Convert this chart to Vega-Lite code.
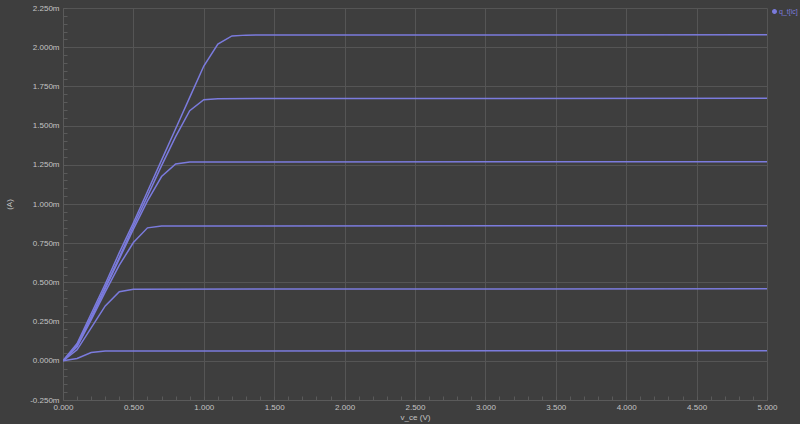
{
  "$schema": "https://vega.github.io/schema/vega-lite/v6.json",
  "autosize": "none",
  "width": 704,
  "height": 392,
  "padding": {"left": 63, "top": 8, "right": 33, "bottom": 24},
  "background": "#3e3e3e",
  "config": {
    "view": {"stroke": null, "fill": "#3e3e3e"},
    "font": "Liberation Sans"
  },
  "data": {
    "values": [
      {"curve": "c1", "vce": 0, "ic": 0},
      {"curve": "c1", "vce": 0.1, "ic": 0.00011},
      {"curve": "c1", "vce": 0.2, "ic": 0.0003},
      {"curve": "c1", "vce": 0.3, "ic": 0.00049},
      {"curve": "c1", "vce": 0.4, "ic": 0.00069},
      {"curve": "c1", "vce": 0.5, "ic": 0.00088},
      {"curve": "c1", "vce": 0.6, "ic": 0.00108},
      {"curve": "c1", "vce": 0.7, "ic": 0.00128},
      {"curve": "c1", "vce": 0.8, "ic": 0.00148},
      {"curve": "c1", "vce": 0.9, "ic": 0.00168},
      {"curve": "c1", "vce": 1.0, "ic": 0.00188},
      {"curve": "c1", "vce": 1.1, "ic": 0.00202},
      {"curve": "c1", "vce": 1.2, "ic": 0.002072},
      {"curve": "c1", "vce": 1.3, "ic": 0.002077},
      {"curve": "c1", "vce": 5.0, "ic": 0.00208},
      {"curve": "c2", "vce": 0, "ic": 0},
      {"curve": "c2", "vce": 0.1, "ic": 0.0001},
      {"curve": "c2", "vce": 0.2, "ic": 0.00028},
      {"curve": "c2", "vce": 0.3, "ic": 0.00047},
      {"curve": "c2", "vce": 0.4, "ic": 0.00066},
      {"curve": "c2", "vce": 0.5, "ic": 0.00086},
      {"curve": "c2", "vce": 0.6, "ic": 0.00105},
      {"curve": "c2", "vce": 0.7, "ic": 0.001245},
      {"curve": "c2", "vce": 0.8, "ic": 0.00143},
      {"curve": "c2", "vce": 0.9, "ic": 0.001595},
      {"curve": "c2", "vce": 1.0, "ic": 0.001665},
      {"curve": "c2", "vce": 1.1, "ic": 0.001672},
      {"curve": "c2", "vce": 5.0, "ic": 0.001675},
      {"curve": "c3", "vce": 0, "ic": 0},
      {"curve": "c3", "vce": 0.1, "ic": 0.000095},
      {"curve": "c3", "vce": 0.2, "ic": 0.00027},
      {"curve": "c3", "vce": 0.3, "ic": 0.00046},
      {"curve": "c3", "vce": 0.4, "ic": 0.00065},
      {"curve": "c3", "vce": 0.5, "ic": 0.00084},
      {"curve": "c3", "vce": 0.6, "ic": 0.00102},
      {"curve": "c3", "vce": 0.7, "ic": 0.001175},
      {"curve": "c3", "vce": 0.8, "ic": 0.001255},
      {"curve": "c3", "vce": 0.9, "ic": 0.001268},
      {"curve": "c3", "vce": 5.0, "ic": 0.00127},
      {"curve": "c4", "vce": 0, "ic": 0},
      {"curve": "c4", "vce": 0.1, "ic": 0.00009},
      {"curve": "c4", "vce": 0.2, "ic": 0.00026},
      {"curve": "c4", "vce": 0.3, "ic": 0.00044},
      {"curve": "c4", "vce": 0.4, "ic": 0.00061},
      {"curve": "c4", "vce": 0.5, "ic": 0.000754},
      {"curve": "c4", "vce": 0.6, "ic": 0.000848},
      {"curve": "c4", "vce": 0.7, "ic": 0.00086},
      {"curve": "c4", "vce": 5.0, "ic": 0.000862},
      {"curve": "c5", "vce": 0, "ic": 0},
      {"curve": "c5", "vce": 0.1, "ic": 0.00007},
      {"curve": "c5", "vce": 0.2, "ic": 0.00021},
      {"curve": "c5", "vce": 0.3, "ic": 0.00035},
      {"curve": "c5", "vce": 0.4, "ic": 0.00044},
      {"curve": "c5", "vce": 0.5, "ic": 0.000457},
      {"curve": "c5", "vce": 5.0, "ic": 0.000459},
      {"curve": "c6", "vce": 0, "ic": 0},
      {"curve": "c6", "vce": 0.1, "ic": 0.000015},
      {"curve": "c6", "vce": 0.2, "ic": 0.000053},
      {"curve": "c6", "vce": 0.3, "ic": 0.000063},
      {"curve": "c6", "vce": 5.0, "ic": 0.000064}
    ]
  },
  "mark": {"type": "line", "strokeWidth": 1.5, "clip": true},
  "encoding": {
    "x": {
      "field": "vce",
      "type": "quantitative",
      "scale": {"domain": [0, 5], "nice": false, "zero": false},
      "axis": {
        "title": "v_ce (V)",
        "values": [0,0.1,0.2,0.3,0.4,0.5,0.6,0.7,0.8,0.9,1,1.1,1.2,1.3,1.4,1.5,1.6,1.7,1.8,1.9,2,2.1,2.2,2.3,2.4,2.5,2.6,2.7,2.8,2.9,3,3.1,3.2,3.3,3.4,3.5,3.6,3.7,3.8,3.9,4,4.1,4.2,4.3,4.4,4.5,4.6,4.7,4.8,4.9,5],
        "labelExpr": "abs(datum.value*2 - round(datum.value*2)) < 0.001 ? format(datum.value, '.3f') : ''",
        "grid": true,
        "gridColor": "#555555",
        "gridWidth": 1,
        "gridOpacity": {"condition": {"test": "abs(datum.value*2 - round(datum.value*2)) < 0.001", "value": 1}, "value": 0},
        "domain": true,
        "domainColor": "#5a5a5a",
        "ticks": true,
        "tickColor": "#5a5a5a",
        "tickSize": -4,
        "labelPadding": 7,
        "labelFontSize": 8,
        "labelColor": "#c4c4c4",
        "labelFlush": false,
        "labelOverlap": false,
        "titleFontSize": 8,
        "titleFontWeight": "normal",
        "titleColor": "#c4c4c4",
        "titlePadding": 2
      }
    },
    "y": {
      "field": "ic",
      "type": "quantitative",
      "scale": {"domain": [-0.00025, 0.00225], "nice": false, "zero": false},
      "axis": {
        "title": "(A)",
        "values": [-0.00025,-0.0002,-0.00015,-0.0001,-0.00005,0,0.00005,0.0001,0.00015,0.0002,0.00025,0.0003,0.00035,0.0004,0.00045,0.0005,0.00055,0.0006,0.00065,0.0007,0.00075,0.0008,0.00085,0.0009,0.00095,0.001,0.00105,0.0011,0.00115,0.0012,0.00125,0.0013,0.00135,0.0014,0.00145,0.0015,0.00155,0.0016,0.00165,0.0017,0.00175,0.0018,0.00185,0.0019,0.00195,0.002,0.00205,0.0021,0.00215,0.0022,0.00225],
        "labelExpr": "abs(datum.value/0.00025 - round(datum.value/0.00025)) < 0.001 ? replace(format(datum.value*1000, '.3f'), '\u2212', '-') + 'm' : ''",
        "grid": true,
        "gridColor": "#555555",
        "gridWidth": 1,
        "gridOpacity": {"condition": {"test": "abs(datum.value/0.00025 - round(datum.value/0.00025)) < 0.001", "value": 1}, "value": 0},
        "domain": true,
        "domainColor": "#5a5a5a",
        "ticks": true,
        "tickColor": "#5a5a5a",
        "tickSize": -4,
        "labelPadding": 8,
        "labelFontSize": 8,
        "labelColor": "#c4c4c4",
        "labelFlush": false,
        "labelOverlap": false,
        "titleFontSize": 8,
        "titleFontWeight": "normal",
        "titleColor": "#c4c4c4",
        "titlePadding": 16
      }
    },
    "detail": {"field": "curve", "type": "nominal"},
    "color": {
      "datum": "q_t[ic]",
      "type": "nominal",
      "scale": {"range": ["#7b7bdd"]},
      "legend": {
        "title": null,
        "orient": "right",
        "offset": 4,
        "symbolType": "circle",
        "symbolSize": 12,
        "symbolFillColor": "#7b7bdd",
        "symbolStrokeColor": "#7b7bdd",
        "labelFontSize": 7,
        "labelColor": "#7b7bdd",
        "labelOffset": 1,
        "labelLimit": 30,
        "padding": 0
      }
    }
  }
}
